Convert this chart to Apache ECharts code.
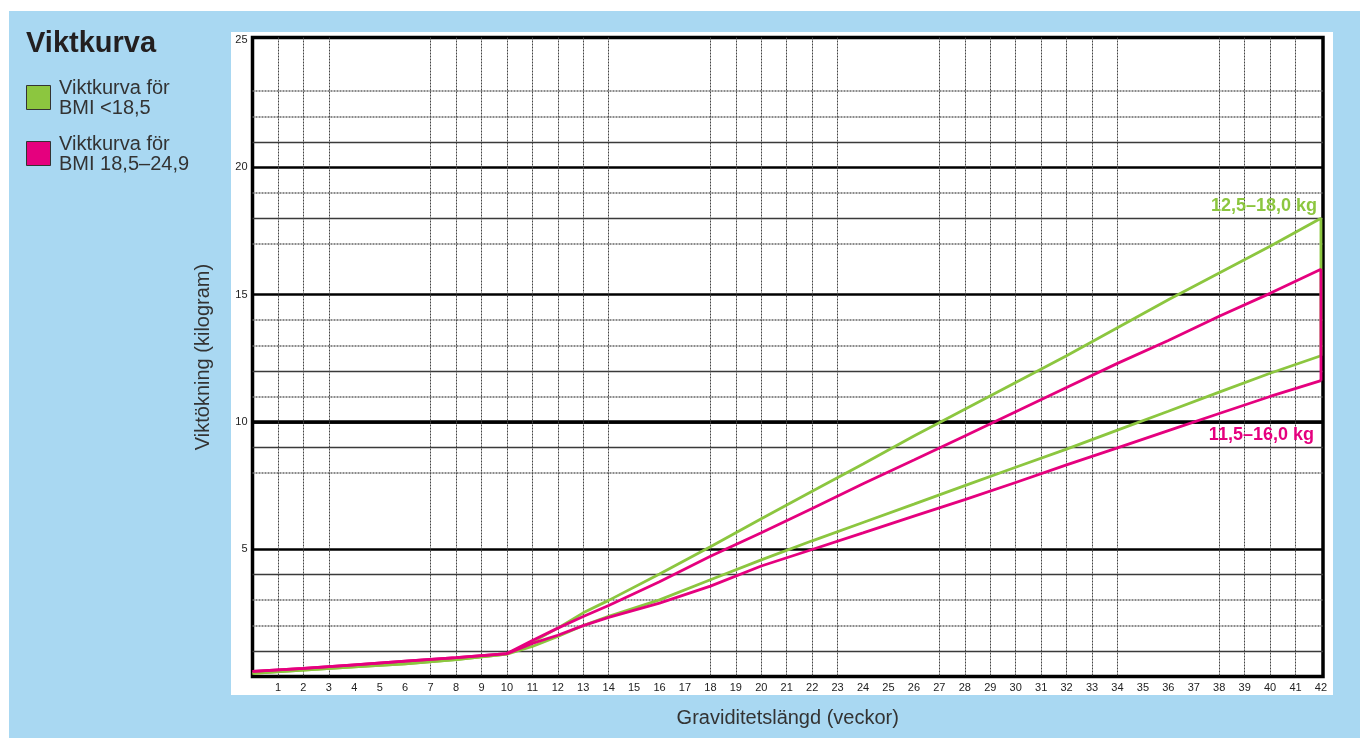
<!DOCTYPE html>
<html><head><meta charset="utf-8">
<script src="https://cdn.jsdelivr.net/npm/echarts@6/dist/echarts.min.js"></script>
<style>html,body{margin:0;padding:0;background:#fff;}#c{width:1360px;height:738px;}</style>
</head><body><div id="c"></div>
<script>
// ---- data ----
const weeks       = [0,2,4,6,8,10,11,12,13,14,16,18,20,22,24,26,28,30,32,34,36,38,40,42];
const greenUpper  = [0.12,0.25,0.38,0.5,0.66,0.88,1.35,1.9,2.5,2.99,4.03,5.1,6.2,7.28,8.35,9.45,10.5,11.55,12.6,13.7,14.8,15.85,16.9,18.0];
const greenLower  = [0.12,0.25,0.38,0.5,0.66,0.88,1.18,1.57,2.0,2.36,3.01,3.8,4.58,5.33,6.05,6.77,7.5,8.22,8.93,9.68,10.42,11.17,11.91,12.6];
const pinkUpper   = [0.2,0.32,0.46,0.6,0.74,0.9,1.41,1.9,2.36,2.79,3.72,4.72,5.65,6.6,7.57,8.5,9.45,10.4,11.35,12.3,13.2,14.15,15.05,16.0];
const pinkLower   = [0.2,0.32,0.46,0.6,0.74,0.9,1.3,1.62,2.0,2.32,2.88,3.55,4.34,4.99,5.64,6.3,6.95,7.62,8.31,8.98,9.66,10.33,11.0,11.62];

const xTickLabels = [1,2,3,4,5,6,7,8,9,10,11,12,13,14,15,16,17,18,19,20,21,22,23,24,25,26,27,28,29,30,31,32,33,34,35,36,37,38,39,40,41,42];
const yTickLabels = [5,10,15,20,25];
const xGridWeeks  = [1,2,3,7,8,9,10,11,12,13,14,18,19,20,21,22,23,27,28,29,30,31,32,33,34,38,39,40,41];
const yMajorLines = [5,10,15,20];
const yTenLines   = [10];
const ySolidMinor = [1,4,9,12,18,21];
const yDottedMinor= [2,3,8,11,13,14,17,19,22,23];

const legendNames = ['Viktkurva för\nBMI <18,5', 'Viktkurva för\nBMI 18,5–24,9'];
const endLabels   = ['12,5–18,0 kg', '11,5–16,0 kg'];
const endLabelAnchors = [[42, 18.0], [42, 10]];

// ---- styling ----
const FONT = '"Liberation Sans", Arial, Helvetica, sans-serif';
const GREEN = '#8cc63f', PINK = '#e5007e';
const NONE = 'rgba(0,0,0,0)';
const X_MAX = 42.08, Y_MAX = 25.1;

function colorsFor(interval, max, keep, color) {
  const out = [];
  const n = Math.floor(max / interval + 1e-9);
  for (let i = 0; i <= n; i++) out.push(keep.indexOf(i * interval) >= 0 ? color : NONE);
  if (n * interval < max - 1e-9) out.push(NONE);
  return out;
}
function pts(xs, ys) { return xs.map((w, i) => [w, ys[i]]); }
function closed(xs, up, low) { return pts(xs, up).concat([[xs[xs.length - 1], low[low.length - 1]]]); }
function lineSeries(name, data, color, z) {
  return { type: 'line', name, data, symbol: 'none', silent: true, z,
    lineStyle: { color, width: 2.8 }, itemStyle: { color }, clip: false };
}
function minorY(interval, keep, color, width, type) {
  return { type: 'value', min: 0, max: Y_MAX, interval, position: 'left', gridIndex: 0,
    axisLine: { show: false }, axisTick: { show: false }, axisLabel: { show: false },
    splitLine: { show: true, lineStyle: { color: colorsFor(interval, Y_MAX, keep, color), width, type } } };
}

const chart = echarts.init(document.getElementById('c'));
const option = {
  animation: false,
  backgroundColor: '#fff',
  title: { text: 'Viktkurva', left: 26, top: 29, padding: 0,
    textStyle: { fontSize: 29, fontWeight: 'bold', color: '#231f20', fontFamily: FONT } },
  grid: { left: 252.5, right: 37, top: 37.5, bottom: 61.5, show: true,
    backgroundColor: '#fff', borderColor: '#000', borderWidth: 3.5 },
  xAxis: { type: 'value', min: 0, max: X_MAX, interval: 1,
    axisLine: { show: false }, axisTick: { show: false },
    axisLabel: { margin: 6, fontSize: 11, color: '#222', fontFamily: FONT,
      formatter: v => xTickLabels.indexOf(v) >= 0 ? String(v) : '' },
    splitLine: { show: true, lineStyle: { color: colorsFor(1, X_MAX, xGridWeeks, '#444'), width: 1, type: [2, 1] } },
    name: 'Graviditetslängd (veckor)', nameLocation: 'middle', nameGap: 32,
    nameTextStyle: { fontSize: 20, color: '#333', fontFamily: FONT, verticalAlign: 'top' } },
  yAxis: [
    { type: 'value', min: 0, max: Y_MAX, interval: 5, position: 'left',
      axisLine: { show: false }, axisTick: { show: false },
      axisLabel: { margin: 5, fontSize: 11, color: '#222', fontFamily: FONT,
        formatter: v => yTickLabels.indexOf(v) >= 0 ? String(v) : '' },
      splitLine: { show: true, lineStyle: { color: colorsFor(5, Y_MAX, yMajorLines, '#000'), width: 2.6 } },
      name: 'Viktökning (kilogram)', nameLocation: 'middle', nameGap: 39, nameRotate: 90,
      nameTextStyle: { fontSize: 20, color: '#333', fontFamily: FONT } },
    minorY(1, yDottedMinor, '#666', 1.6, [2, 1]),
    minorY(1, ySolidMinor, '#3a3a3a', 1.3, 'solid'),
    minorY(10, yTenLines, '#000', 3.6, 'solid')
  ],
  series: [
    lineSeries(legendNames[0], pts(weeks, greenLower), GREEN, 3),
    lineSeries(legendNames[0], closed(weeks, greenUpper, greenLower), GREEN, 3),
    lineSeries(legendNames[1], pts(weeks, pinkLower), PINK, 4),
    lineSeries(legendNames[1], closed(weeks, pinkUpper, pinkLower), PINK, 4)
  ],
  graphic: [
    { type: 'rect', z: -10, silent: true, shape: { x: 9, y: 11, width: 1351, height: 727 }, style: { fill: '#a9d8f2' } },
    { type: 'rect', z: -9, silent: true, shape: { x: 231, y: 32, width: 1102, height: 663 }, style: { fill: '#fff' } },
    { type: 'rect', shape: { x: 26.5, y: 85.5, width: 24, height: 24 }, style: { fill: GREEN, stroke: '#333', lineWidth: 1 } },
    { type: 'text', style: { x: 59, y: 78, text: legendNames[0], fill: '#333', fontSize: 20, lineHeight: 20, fontFamily: FONT, textVerticalAlign: 'top' } },
    { type: 'rect', shape: { x: 26.5, y: 141.5, width: 24, height: 24 }, style: { fill: PINK, stroke: '#333', lineWidth: 1 } },
    { type: 'text', style: { x: 59, y: 134, text: legendNames[1], fill: '#333', fontSize: 20, lineHeight: 20, fontFamily: FONT, textVerticalAlign: 'top' } }
  ]
};
chart.setOption(option);

const pG = chart.convertToPixel({ gridIndex: 0 }, endLabelAnchors[0]);
const pP = chart.convertToPixel({ gridIndex: 0 }, endLabelAnchors[1]);
option.graphic.push(
  { type: 'text', z: 10, style: { x: pG[0] - 4, y: pG[1] - 3, text: endLabels[0], fill: GREEN, fontSize: 18, fontWeight: 'bold', fontFamily: FONT, textAlign: 'right', textVerticalAlign: 'bottom' } },
  { type: 'text', z: 10, style: { x: pP[0] - 7, y: pP[1] + 4, text: endLabels[1], fill: PINK, fontSize: 18, fontWeight: 'bold', fontFamily: FONT, textAlign: 'right', textVerticalAlign: 'top' } }
);
chart.setOption({ graphic: option.graphic });
</script>
</body></html>
